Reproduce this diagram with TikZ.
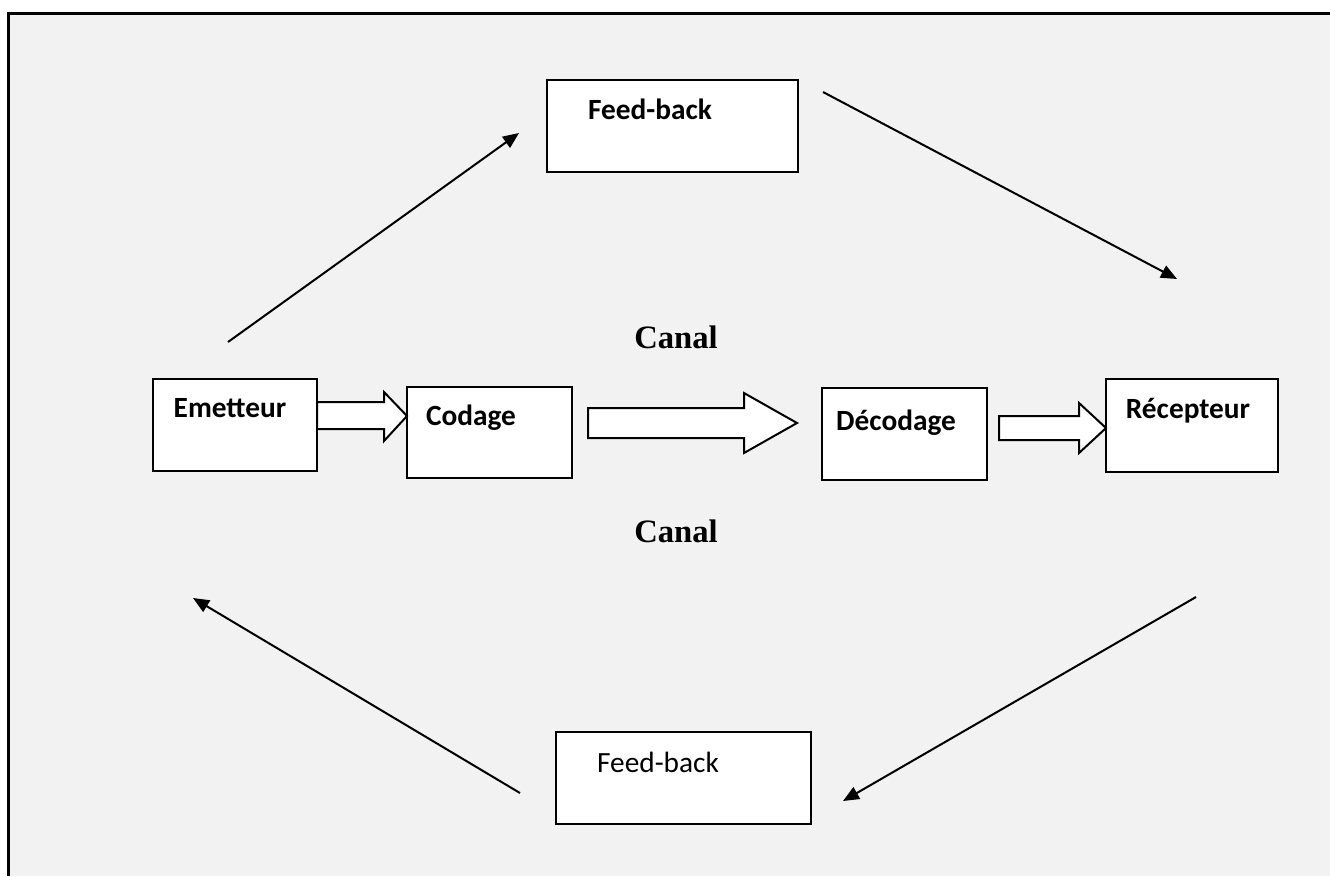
\documentclass[tikz,border=0pt]{standalone}
\usepackage{fontspec}
\setmainfont{Carlito}
\newfontfamily\timesf{Liberation Serif}
\usetikzlibrary{arrows.meta}
\definecolor{bggray}{HTML}{F2F2F2}
\begin{document}
\begin{tikzpicture}[x=0.75pt,y=-0.75pt,
  box/.style={draw=black,line width=1.5pt,fill=white,inner sep=0pt,outer sep=0pt},
  lbl/.style={anchor=base,inner sep=0pt,font=\fontsize{22}{26}\selectfont\bfseries},
  lblr/.style={anchor=base,inner sep=0pt,font=\fontsize{22}{26}\selectfont},
  canal/.style={anchor=base,inner sep=0pt,font=\fontsize{24.5}{28}\selectfont\timesf\bfseries},
  link/.style={line width=1.5pt,-{Triangle[length=12pt,width=10pt]}},
  blockarrow/.style={draw=black,line width=1.5pt,fill=white,line join=miter}]
\useasboundingbox (0,0) rectangle (1330,876);
\fill[white] (0,0) rectangle (1330,876);
\fill[bggray] (8.5,13.5) rectangle (1330,876);
\draw[line width=2.5pt] (8.5,876) -- (8.5,13.5) -- (1330,13.5);

% boxes
\node[box,minimum width=123pt,minimum height=69pt] (em) at (235,425) {};
\node[box,minimum width=123.75pt,minimum height=68.25pt] (cod) at (489.5,432.5) {};
\node[box,minimum width=123.75pt,minimum height=69pt] (dec) at (904.5,434) {};
\node[box,minimum width=129pt,minimum height=69.75pt] (rec) at (1192,425.5) {};
\node[box,minimum width=188.25pt,minimum height=69pt] (fbt) at (672.5,126) {};
\node[box,minimum width=191.25pt,minimum height=69pt] (fbb) at (683.5,778) {};

% labels
\node[lbl] (tem) at (230,417) {Emetteur};
\node[lbl] (tcod) at (471,425) {Codage};
\node[lbl] (tdec) at (896,430) {Décodage};
\node[lbl] (trec) at (1188,418) {Récepteur};
\node[lbl] (tfbt) at (650,119) {Feed-back};
\node[lblr] (tfbb) at (658,772) {Feed-back};
\node[canal] (c1) at (676,348) {Canal};
\node[canal] (c2) at (676,542) {Canal};

% block arrows
\draw[blockarrow] (317,402) -- (384,402) -- (384,392) -- (407,416) -- (384,441) -- (384,429) -- (317,429) -- cycle;
\draw[blockarrow] (588,408) -- (744,408) -- (744,393) -- (797,423) -- (744,453) -- (744,438) -- (588,438) -- cycle;
\draw[blockarrow] (999,416) -- (1079,416) -- (1079,403) -- (1106,428) -- (1079,453) -- (1079,440) -- (999,440) -- cycle;

% feedback connectors
\coordinate (a1) at (228,342); \coordinate (b1) at (519,133);
\coordinate (a2) at (823,92);  \coordinate (b2) at (1177,279);
\coordinate (a3) at (1196,597); \coordinate (b3) at (843,801);
\coordinate (a4) at (520,793); \coordinate (b4) at (193,598);
\draw[link] (a1) -- (b1);
\draw[link] (a2) -- (b2);
\draw[link] (a3) -- (b3);
\draw[link] (a4) -- (b4);
\end{tikzpicture}
\end{document}
